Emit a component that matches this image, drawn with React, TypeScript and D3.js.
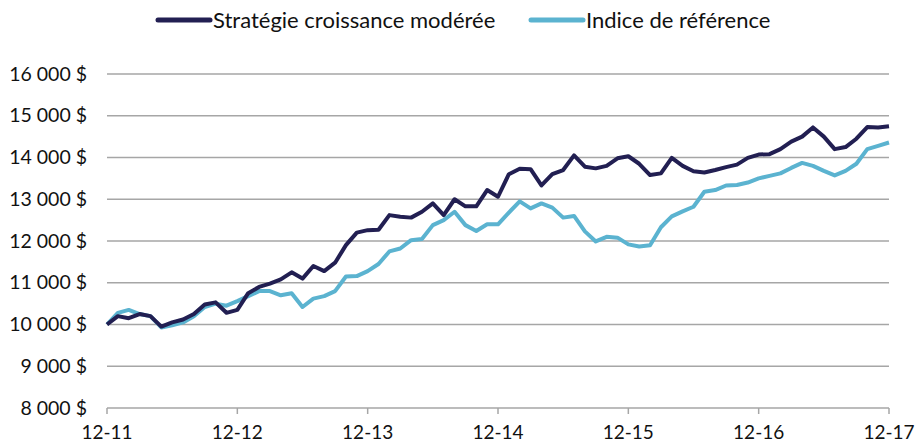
import React from "react";
import * as d3 from "d3";

const yearLabels = ["12-11", "12-12", "12-13", "12-14", "12-15", "12-16", "12-17"];
const yTicks = [8000, 9000, 10000, 11000, 12000, 13000, 14000, 15000, 16000];

const strategie = [
  10000, 10200, 10150, 10250, 10200, 9950, 10050, 10120, 10250, 10480, 10530, 10280,
  10350, 10750, 10900, 10980, 11080, 11250, 11100, 11400, 11280, 11480, 11900, 12200,
  12260, 12270, 12620, 12580, 12560, 12700, 12900, 12620, 13000, 12830, 12830, 13220,
  13060, 13600, 13730, 13720, 13330, 13600, 13700, 14050, 13780, 13740, 13800, 13980,
  14030, 13850, 13580, 13620, 13990, 13800, 13670, 13640, 13700, 13770, 13830, 13990,
  14070, 14080, 14200, 14380, 14500, 14720, 14500, 14200, 14250, 14450, 14730, 14720,
  14750,
];

const indice = [
  10000, 10280, 10350, 10250, 10200, 9930, 9980, 10050, 10200, 10420, 10500, 10450,
  10560, 10680, 10800, 10800, 10700, 10750, 10420, 10620, 10680, 10800, 11150, 11160,
  11280, 11450, 11750, 11820, 12020, 12050, 12380, 12500, 12700, 12380, 12240, 12400,
  12400, 12680, 12950, 12780, 12900, 12800, 12560, 12600, 12230, 11990, 12100, 12080,
  11920, 11870, 11900, 12330, 12590, 12710, 12820, 13180, 13220, 13330, 13340, 13400,
  13500, 13560, 13620, 13750, 13870, 13800, 13680, 13570, 13680, 13850, 14200, 14280,
  14360,
];

const seriesNames = ["Stratégie croissance modérée", "Indice de référence"];
const colors = ["#221f52", "#5bb3d0"];

const FONT = "Lato, 'Open Sans', sans-serif";

export default function App() {
  const W = 917, H = 442;
  const x = d3.scaleLinear().domain([0, 72]).range([107, 889]);
  const y = d3.scaleLinear().domain([8000, 16000]).range([408, 74]);
  const line = d3.line<number>().x((_, i) => x(i)).y((d) => y(d));
  const fmt = (v: number) => d3.format(",")(v).replace(/,/g, "\u00a0") + "\u00a0$";

  return (
    <svg width={W} height={H} style={{ position: "absolute", left: 0, top: 0 }} fontFamily={FONT}>
      {yTicks.slice(1).map((t) => (
        <line key={t} x1={x(0)} x2={x(72)} y1={y(t)} y2={y(t)} stroke="#a6a6a6" strokeWidth={1.5} />
      ))}
      <line x1={x(0)} x2={x(72)} y1={y(8000)} y2={y(8000)} stroke="#a6a6a6" strokeWidth={1.5} />
      {yearLabels.map((lab, i) => (
        <g key={lab}>
          <line x1={x(i * 12)} x2={x(i * 12)} y1={y(8000)} y2={y(8000) + 6} stroke="#a6a6a6" strokeWidth={1.5} />
          <text x={x(i * 12)} y={439} textAnchor="middle" fontSize={19} fill="#111">{lab}</text>
        </g>
      ))}
      {yTicks.map((t) => (
        <text key={t} x={87} y={y(t) + 6.5} textAnchor="end" fontSize={19.5} fill="#111">{fmt(t)}</text>
      ))}
      <path d={line(indice) || ""} fill="none" stroke={colors[1]} strokeWidth={4} strokeLinejoin="round" />
      <path d={line(strategie) || ""} fill="none" stroke={colors[0]} strokeWidth={4} strokeLinejoin="round" />
      <g>
        <line x1={158} x2={210} y1={20} y2={20} stroke={colors[0]} strokeWidth={5} strokeLinecap="round" />
        <text x={213} y={28} fontSize={22} fill="#111">{seriesNames[0]}</text>
        <line x1={531} x2={583} y1={20} y2={20} stroke={colors[1]} strokeWidth={5} strokeLinecap="round" />
        <text x={586} y={28} fontSize={22} fill="#111">{seriesNames[1]}</text>
      </g>
    </svg>
  );
}
